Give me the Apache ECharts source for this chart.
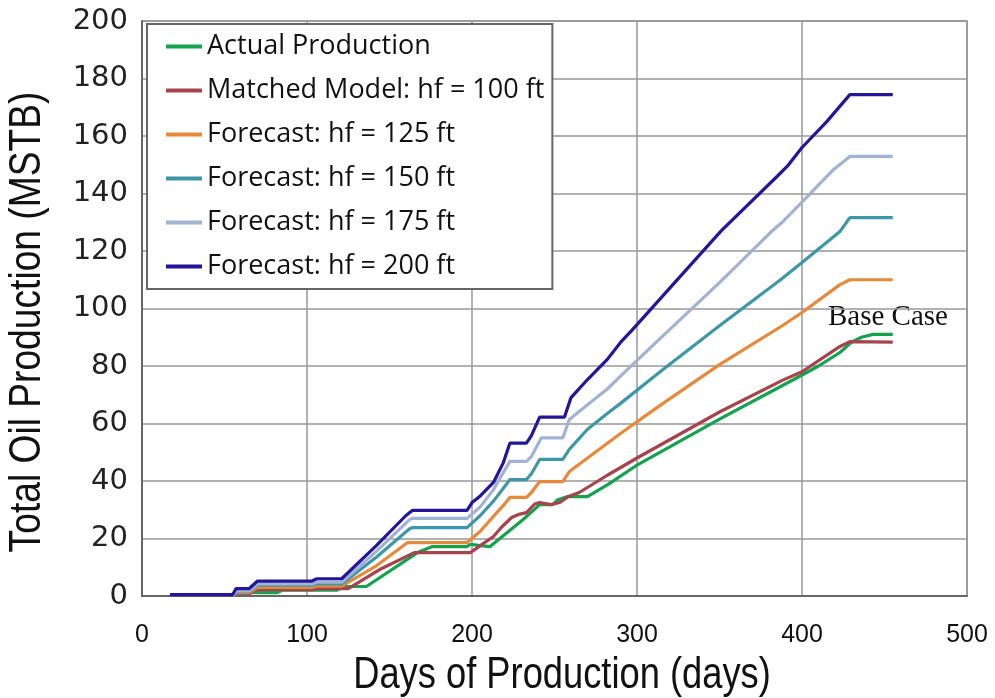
<!DOCTYPE html>
<html>
<head>
<meta charset="utf-8">
<script src="https://cdn.jsdelivr.net/npm/echarts@6/dist/echarts.min.js"></script>
<style>
  html, body { margin: 0; padding: 0; background: #fff; }
  #chart { width: 995px; height: 698px; }
</style>
</head>
<body>
<div id="chart"></div>
<script>
// Cumulative oil production, [day, MSTB]
const actualProduction = [
  [60, 0.3], [62, 1.2], [82, 1.2], [85, 2], [118, 2], [122, 3.3], [136, 3.3],
  [167, 15.1], [176, 17.2], [197, 17.2], [199, 18], [205, 17.5], [211, 17.2],
  [220, 21.5], [231, 26.6], [241, 31.8], [249, 31.8], [252, 33.5], [258, 34.6],
  [270, 34.6], [283, 39], [296, 44], [300, 45.5], [350, 61.5], [395, 75.3],
  [410, 80], [423, 84.7], [430, 88.3], [436, 90], [443, 91], [455, 91]
];
const matchedModel = [
  [55, 0], [57, 0.8], [65, 0.8], [70, 2.2], [103, 2.2], [106, 2.6], [125, 2.6],
  [145, 9.5], [165, 15.1], [199, 15.1], [205, 17.5], [213, 20.7], [218, 24],
  [224, 27.3], [229, 28.5], [233, 29], [238, 32], [241, 32.5], [248, 31.8],
  [253, 32.5], [258, 34.5], [265, 36], [282, 42], [300, 48], [350, 64],
  [388, 75], [400, 78], [423, 86.8], [429, 88.5], [455, 88.3]
];
const forecast125 = [
  [55, 0], [57, 1.2], [65, 1.2], [70, 3], [103, 3], [106, 3.4], [121, 3.4],
  [142, 10.5], [161, 18.6], [197, 18.6], [205, 22.5], [213, 27.7], [219, 31.5],
  [223, 34.3], [233, 34.3], [236, 36], [241, 39.8], [255, 39.8], [259, 43.3],
  [290, 56.5], [314, 66.3], [350, 80.5], [388, 94], [400, 98.6], [423, 108.3],
  [429, 110], [455, 110]
];
const forecast150 = [
  [55, 0], [57, 1.5], [65, 1.5], [70, 3.8], [103, 3.8], [106, 4.2], [121, 4.2],
  [142, 13.5], [162, 23.3], [164, 23.8], [197, 23.8], [205, 28], [213, 33],
  [219, 37.5], [223, 40.5], [233, 40.5], [236, 42.5], [241, 47.5], [255, 47.5],
  [259, 51], [270, 58], [282, 63.5], [290, 67], [314, 78], [350, 94],
  [387, 110], [400, 116], [423, 126.8], [429, 131.6], [455, 131.6]
];
const forecast175 = [
  [55, 0], [57, 1.8], [65, 1.8], [70, 4.2], [103, 4.2], [106, 4.8], [121, 4.8],
  [142, 15.5], [162, 26.5], [164, 27], [197, 27], [205, 31], [213, 37],
  [219, 43], [223, 46.8], [233, 46.8], [236, 48.5], [242, 55], [255, 55],
  [259, 61.4], [270, 66.5], [282, 72], [290, 76.5], [312, 88.5], [350, 109],
  [381, 126.5], [388, 130], [400, 137], [419, 148.3], [429, 152.9], [455, 152.9]
];
const forecast200 = [
  [17, 0.5], [55, 0.5], [57, 2.6], [65, 2.6], [70, 5.2], [103, 5.2], [106, 6],
  [121, 6], [142, 17.5], [160, 28], [164, 29.8], [197, 29.8], [200, 32.5],
  [205, 34.8], [213, 39.5], [219, 46.4], [223, 53.2], [233, 53.2], [236, 55.8],
  [241, 62.2], [256, 62.2], [260, 69], [270, 75.3], [282, 82.3], [290, 88.2],
  [297, 92.5], [351, 127], [385, 146], [391, 149.4], [400, 156], [415, 165],
  [429, 174.4], [455, 174.4]
];

const seriesNames = [
  'Actual Production',
  'Matched Model: hf = 100 ft',
  'Forecast: hf = 125 ft',
  'Forecast: hf = 150 ft',
  'Forecast: hf = 175 ft',
  'Forecast: hf = 200 ft'
];
const seriesData = [actualProduction, matchedModel, forecast125, forecast150, forecast175, forecast200];
const seriesColors = ['#14a24f', '#a8434e', '#e6893b', '#3e97a6', '#a2b2d2', '#25159b'];

const xTicks = { min: 0, max: 500, interval: 100 };
const yTicks = { min: 0, max: 200, interval: 20 };

const xTitle = 'Days of Production (days)';
const yTitle = 'Total Oil Production (MSTB)';
const annotation = 'Base Case';

const sans = '"Liberation Sans", Arial, sans-serif';

const chart = echarts.init(document.getElementById('chart'), null, { renderer: 'canvas' });

chart.setOption({
  animation: false,
  backgroundColor: '#fff',
  grid: {
    left: 142, right: 28, top: 21, bottom: 102,
    show: true, borderColor: '#8a8a8a', borderWidth: 1.5
  },
  xAxis: {
    type: 'value',
    min: xTicks.min, max: xTicks.max, interval: xTicks.interval,
    axisLine: { show: true, lineStyle: { color: '#666', width: 2 } },
    axisTick: { show: false },
    axisLabel: { margin: 27, fontFamily: sans, fontSize: 25, color: '#111' },
    splitLine: { show: true, lineStyle: { color: '#999', width: 1.5 } }
  },
  yAxis: {
    type: 'value',
    min: yTicks.min, max: yTicks.max, interval: yTicks.interval,
    axisLine: { show: true, lineStyle: { color: '#666', width: 2 } },
    axisTick: { show: false },
    axisLabel: { margin: 14, fontFamily: '"DejaVu Sans", sans-serif', fontSize: 29, color: '#222' },
    splitLine: { show: true, lineStyle: { color: '#999', width: 1.5 } }
  },
  legend: {
    orient: 'vertical',
    left: 147, top: 24,
    padding: [9, 8, 9, 19],
    itemGap: 17,
    itemWidth: 36, itemHeight: 4,
    icon: 'rect',
    backgroundColor: '#fff',
    borderColor: '#666', borderWidth: 2,
    textStyle: { fontFamily: '"Open Sans", sans-serif', fontSize: 27, color: '#111' },
    data: seriesNames
  },
  graphic: [
    {
      // condensed axis titles
      type: 'text',
      x: 562, y: 676, scaleX: 0.825,
      style: { text: xTitle, font: '44px ' + sans, fill: '#111', align: 'center', verticalAlign: 'middle' }
    },
    {
      type: 'text',
      x: 28, y: 322, rotation: Math.PI / 2, scaleX: 0.845,
      style: { text: yTitle, font: '44px ' + sans, fill: '#111', align: 'center', verticalAlign: 'middle' }
    },
    {
      type: 'text',
      left: 828, top: 303,
      style: { text: annotation, font: '29px "Liberation Serif", serif', fill: '#111' }
    }
  ],
  series: seriesNames.map((name, i) => ({
    name: name,
    type: 'line',
    data: seriesData[i],
    symbol: 'none',
    color: seriesColors[i],
    lineStyle: { width: 3.2, color: seriesColors[i] }
  }))
});
</script>
</body>
</html>
